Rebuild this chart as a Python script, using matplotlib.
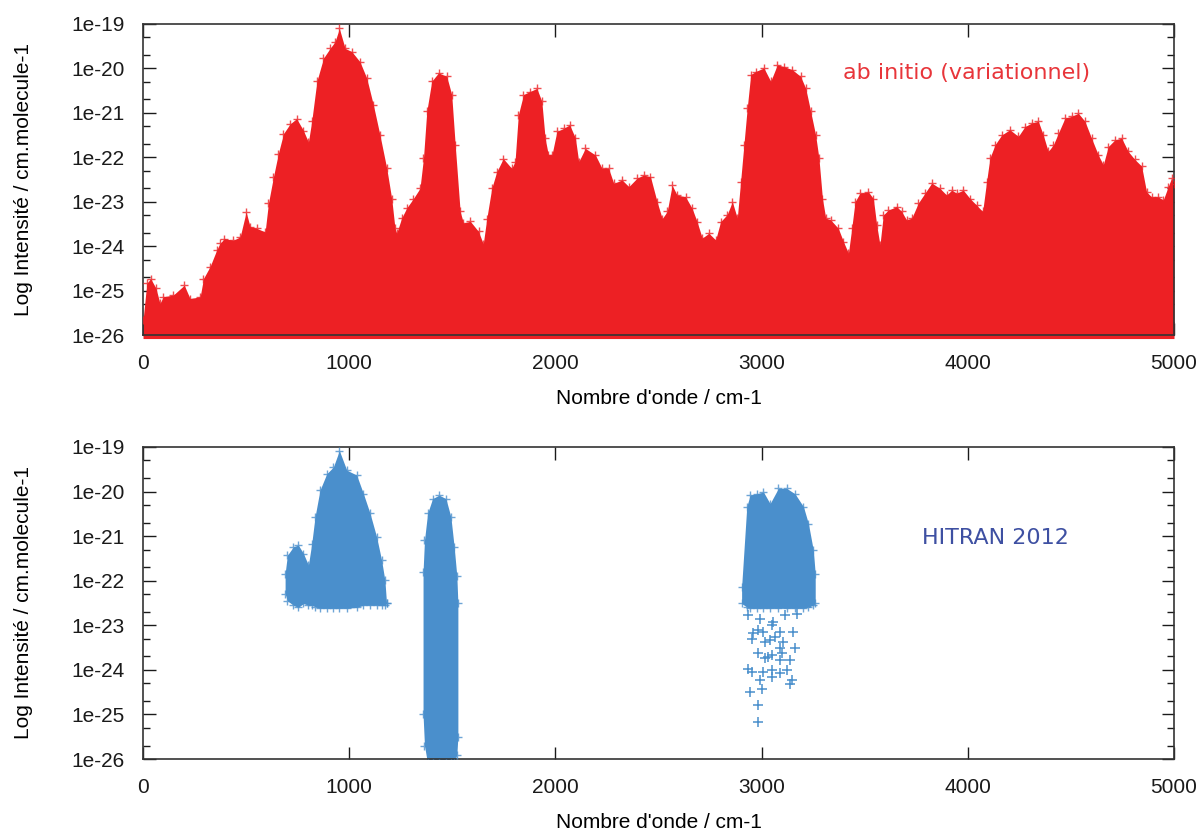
import matplotlib
matplotlib.use("Agg")
import matplotlib.pyplot as plt
from matplotlib.ticker import FixedLocator, FuncFormatter, LogLocator, NullFormatter
import numpy as np

# ab initio spectrum : upper envelope (wavenumber cm-1, log10 intensity)
ab_wn = [0, 18, 37, 63, 82, 98, 147, 200, 228, 277, 293, 325, 357, 373, 394, 438, 471, 500, 519, 551,
         592, 608, 632, 656, 681, 713, 745, 778, 802, 818, 843, 875, 907, 931, 952, 980, 1012, 1052, 1085,
         1117, 1149, 1182, 1206, 1222, 1230, 1254, 1279, 1311, 1343, 1360, 1376, 1400, 1433, 1473, 1497,
         1514, 1538, 1554, 1587, 1627, 1650, 1667, 1691, 1715, 1747, 1788, 1804, 1820, 1845, 1877, 1910,
         1934, 1950, 1966, 1983, 2007, 2040, 2069, 2097, 2113, 2145, 2194, 2226, 2258, 2283, 2323, 2356,
         2396, 2428, 2461, 2493, 2518, 2542, 2566, 2590, 2631, 2663, 2687, 2712, 2744, 2777, 2801, 2833,
         2858, 2882, 2898, 2914, 2930, 2947, 2971, 3011, 3044, 3076, 3109, 3149, 3189, 3214, 3238, 3262,
         3278, 3295, 3311, 3335, 3372, 3397, 3421, 3437, 3453, 3477, 3518, 3542, 3558, 3574, 3590, 3614,
         3655, 3679, 3703, 3728, 3760, 3792, 3825, 3865, 3897, 3922, 3946, 3978, 4011, 4043, 4072, 4091,
         4107, 4132, 4164, 4204, 4245, 4277, 4310, 4342, 4366, 4390, 4415, 4439, 4471, 4503, 4536, 4568,
         4600, 4633, 4657, 4681, 4713, 4746, 4778, 4810, 4843, 4867, 4891, 4923, 4948, 4972, 4988, 5000]
ab_log = [-25.67, -24.84, -24.73, -24.95, -25.29, -25.14, -25.10, -24.88, -25.18, -25.14, -24.73, -24.46,
          -24.09, -23.94, -23.83, -23.87, -23.79, -23.23, -23.56, -23.60, -23.68, -23.04, -22.45, -21.92,
          -21.47, -21.25, -21.13, -21.40, -21.66, -21.19, -20.29, -19.77, -19.55, -19.40, -19.10, -19.55,
          -19.62, -19.85, -20.22, -20.82, -21.50, -22.25, -22.93, -23.60, -23.71, -23.37, -23.14, -22.93,
          -22.70, -22.02, -20.97, -20.29, -20.10, -20.18, -20.59, -21.72, -23.22, -23.48, -23.44, -23.67,
          -23.95, -23.38, -22.70, -22.33, -22.03, -22.25, -22.10, -21.05, -20.59, -20.52, -20.45, -20.74,
          -21.57, -21.95, -21.95, -21.42, -21.35, -21.27, -21.57, -22.10, -21.80, -21.95, -22.25, -22.25,
          -22.59, -22.51, -22.66, -22.47, -22.40, -22.44, -23.00, -23.38, -23.22, -22.63, -22.85, -22.89,
          -23.15, -23.45, -23.82, -23.71, -23.86, -23.45, -23.29, -23.00, -23.37, -22.55, -21.72, -20.90,
          -20.14, -20.07, -19.99, -20.29, -19.92, -19.96, -20.03, -20.18, -20.45, -20.97, -21.50, -22.02,
          -22.93, -23.37, -23.41, -23.60, -23.90, -24.16, -23.60, -23.00, -22.81, -22.78, -22.93, -23.52,
          -23.97, -23.30, -23.19, -23.11, -23.22, -23.41, -23.37, -23.03, -22.81, -22.58, -22.70, -22.85,
          -22.74, -22.81, -22.74, -22.93, -23.08, -23.22, -22.55, -22.02, -21.72, -21.50, -21.38, -21.53,
          -21.31, -21.23, -21.19, -21.50, -21.87, -21.72, -21.46, -21.12, -21.08, -21.01, -21.19, -21.57,
          -21.95, -22.17, -21.76, -21.61, -21.57, -21.87, -22.05, -22.20, -22.78, -22.89, -22.89, -22.96,
          -22.66, -22.47, -22.60]

# HITRAN 2012 : three bands, upper and lower envelopes (log10)
hit1_wn = [689, 700, 729, 753, 778, 802, 818, 834, 858, 891, 923, 952, 988, 1036, 1069, 1101, 1133, 1157,
           1173, 1181]
hit1_hi = [-21.84, -21.43, -21.24, -21.20, -21.39, -21.65, -21.17, -20.57, -19.97, -19.60, -19.45, -19.08,
           -19.52, -19.63, -20.05, -20.49, -21.02, -21.54, -21.99, -22.51]
hit1_lo = [-22.29, -22.45, -22.55, -22.60, -22.51, -22.55, -22.55, -22.58, -22.62, -22.62, -22.62, -22.62,
           -22.62, -22.60, -22.55, -22.55, -22.55, -22.55, -22.55, -22.51]

hit2_wn = [1358, 1365, 1380, 1404, 1436, 1469, 1493, 1509, 1522, 1527]
hit2_hi = [-21.80, -21.09, -20.49, -20.16, -20.08, -20.16, -20.57, -21.24, -21.90, -22.50]
hit2_lo = [-25.00, -25.70, -26.10, -26.10, -26.10, -26.10, -26.10, -26.10, -25.90, -25.50]

hit3_wn = [2903, 2928, 2944, 2976, 3009, 3041, 3081, 3122, 3162, 3203, 3227, 3251, 3260]
hit3_hi = [-22.14, -20.34, -20.08, -20.05, -20.01, -20.27, -19.93, -19.93, -20.05, -20.34, -20.72, -21.32,
           -21.84]
hit3_lo = [-22.51, -22.59, -22.62, -22.62, -22.62, -22.62, -22.62, -22.62, -22.62, -22.62, -22.59, -22.55,
           -22.51]

# isolated weak HITRAN lines below the 3000 cm-1 band
weak_wn = [2936, 2992, 3057, 3113, 3170, 3235, 2960, 2984, 3008, 3049, 3089, 3154, 2952, 3016, 3041, 3065,
           3105, 3162, 2984, 3016, 3033, 3089, 3097, 3049, 3138, 3089, 2936, 2952, 3008, 3049, 3049, 3089,
           3122, 2992, 3138, 3146, 3000, 2944, 2984, 2984]
weak_log = [-22.77, -22.85, -22.92, -22.77, -22.74, -22.51, -23.18, -23.11, -23.15, -23.00, -23.15, -23.15,
            -23.30, -23.37, -23.33, -23.26, -23.37, -23.52, -23.63, -23.74, -23.71, -23.52, -23.63, -23.67,
            -23.78, -23.78, -23.97, -24.04, -24.04, -24.01, -24.16, -24.08, -24.01, -24.23, -24.31, -24.23,
            -24.42, -24.49, -24.79, -25.17]

xticks = [0, 1000, 2000, 3000, 4000, 5000]
yticks = [1e-26, 1e-25, 1e-24, 1e-23, 1e-22, 1e-21, 1e-20, 1e-19]

RED = "#ed2024"
BLUE = "#4a8fcc"

plt.rcParams['font.family'] = ['Liberation Sans', 'DejaVu Sans']

fig = plt.figure(figsize=(12.02, 8.35), dpi=100)
ax1 = fig.add_axes([0.119, 0.5988, 0.8577, 0.3725])
ax2 = fig.add_axes([0.119, 0.0910, 0.8577, 0.3737])


def style(ax):
    ax.set_yscale("log")
    ax.set_xlim(0, 5000)
    ax.set_ylim(1e-26, 1e-19)
    ax.xaxis.set_major_locator(FixedLocator(xticks))
    ax.yaxis.set_major_locator(FixedLocator(yticks))
    ax.yaxis.set_minor_locator(LogLocator(base=10, subs=(2, 5), numticks=20))
    ax.yaxis.set_minor_formatter(NullFormatter())
    ax.yaxis.set_major_formatter(FuncFormatter(lambda v, p: "1e%d" % int(round(np.log10(v)))))
    ax.tick_params(which="both", direction="in", top=True, right=True, labelsize=15, colors="#1a1a1a")
    ax.tick_params(which="major", length=9, width=1)
    ax.tick_params(which="minor", length=5, width=1)
    ax.tick_params(axis="x", which="major", pad=14)
    ax.tick_params(axis="y", which="major", pad=13)
    for s in ax.spines.values():
        s.set_color("#333333")
        s.set_linewidth(1.2)
    ax.set_xlabel("Nombre d'onde / cm-1", fontsize=15, labelpad=11)
    ax.set_ylabel("Log Intensité / cm.molecule-1", fontsize=15)
    ax.yaxis.set_label_coords(-0.107, 0.5)


# top : ab initio
y_ab = 10.0 ** np.array(ab_log)
ax1.fill_between(ab_wn, 10 ** -26.08, y_ab, color=RED, lw=0, clip_on=False, zorder=2)
ax1.plot(ab_wn, y_ab, "+", color=RED, ms=6, mew=1.0, alpha=0.8, zorder=3)
ax1.text(0.679, 0.842, "ab initio (variationnel)", transform=ax1.transAxes, color="#e8353a",
         fontsize=16, family="DejaVu Sans", ha="left", va="center")
style(ax1)

# bottom : HITRAN 2012
for wn, hi, lo in [(hit1_wn, hit1_hi, hit1_lo), (hit2_wn, hit2_hi, hit2_lo), (hit3_wn, hit3_hi, hit3_lo)]:
    yh = 10.0 ** np.array(hi)
    yl = 10.0 ** np.array(lo)
    ax2.fill_between(wn, yl, yh, color=BLUE, lw=0, zorder=2)
    ax2.plot(wn, yh, "+", color=BLUE, ms=6, mew=1.0, alpha=0.8, zorder=3)
    ax2.plot(wn, yl, "+", color=BLUE, ms=6, mew=1.0, alpha=0.8, zorder=3)
ax2.plot(weak_wn, 10.0 ** np.array(weak_log), "+", color=BLUE, ms=7, mew=1.1, zorder=3)
ax2.text(0.7556, 0.7077, "HITRAN 2012", transform=ax2.transAxes, color="#3e50a2",
         fontsize=16, family="DejaVu Sans", ha="left", va="center")
style(ax2)

fig.savefig("out.png", dpi=100)
